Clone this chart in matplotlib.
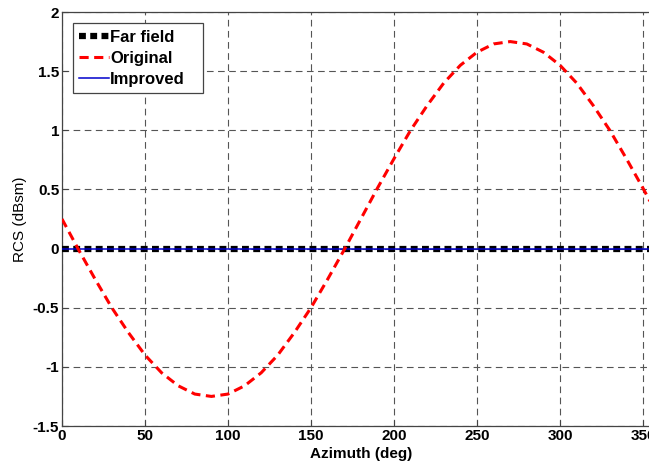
import matplotlib
matplotlib.use("Agg")
import matplotlib.pyplot as plt
import numpy as np

azimuth = [0, 10, 20, 30, 40, 50, 60, 70, 80, 90, 100, 110, 120, 130, 140, 150,
           160, 170, 180, 190, 200, 210, 220, 230, 240, 250, 260, 270, 280, 290,
           300, 310, 320, 330, 340, 350, 360]
original = [0.25, -0.01, -0.26, -0.50, -0.71, -0.90, -1.05, -1.16, -1.23, -1.25,
            -1.23, -1.16, -1.05, -0.90, -0.71, -0.50, -0.26, -0.01, 0.25, 0.51,
            0.76, 1.00, 1.21, 1.40, 1.55, 1.66, 1.73, 1.75, 1.73, 1.66, 1.55,
            1.40, 1.21, 1.00, 0.76, 0.51, 0.25]
far_field = [0.0] * len(azimuth)
improved = [0.0] * len(azimuth)
xticks = [0, 50, 100, 150, 200, 250, 300, 350]
yticks = [-1.5, -1, -0.5, 0, 0.5, 1, 1.5, 2]
ytick_labels = ["-1.5", "-1", "-0.5", "0", "0.5", "1", "1.5", "2"]

plt.rcParams['font.family'] = ['Liberation Sans', 'DejaVu Sans']

fig = plt.figure(figsize=(6.49, 4.70), dpi=100)
ax = fig.add_axes([62/649, 44/470, 597.6/649, 414/470])

ax.plot(azimuth, far_field, color='black', linestyle=(0, (1.1, 0.7)), linewidth=4.5,
        label='Far field', zorder=3, solid_capstyle='butt', dash_capstyle='butt')
ax.plot(azimuth, original, color='#ff0000', linestyle=(0, (3, 1.8)), linewidth=2.2,
        label='Original', zorder=5)
ax.plot(azimuth, improved, color='#0000cc', linestyle='-', linewidth=1.1,
        label='Improved', zorder=4)

ax.set_xlim(0, 360)
ax.set_ylim(-1.5, 2)
ax.set_xticks(xticks)
ax.set_yticks(yticks)
ax.set_yticklabels(ytick_labels)
ax.tick_params(direction='in', length=4, width=0.8, color='#444444',
               labelsize=11, pad=2)
for lab in ax.get_xticklabels() + ax.get_yticklabels():
    lab.set_fontweight('bold')

ax.grid(True, color='#555555', linestyle=(0, (6, 4)), linewidth=0.8)
for s in ax.spines.values():
    s.set_color('#444444')
    s.set_linewidth(0.9)

ax.set_xlabel('Azimuth (deg)', fontsize=11, fontweight='bold', labelpad=3)
ax.set_ylabel('RCS (dBsm)', fontsize=11, labelpad=4)

handles, labels = ax.get_legend_handles_labels()
leg = ax.legend(handles, labels,
                loc='upper left', bbox_to_anchor=(10.7/597.6, 403/414, 130/597.6, 0),
                mode='expand',
                prop={'weight': 'bold', 'size': 12}, frameon=True, fancybox=False,
                edgecolor='#444444', framealpha=1, handlelength=1.75,
                handletextpad=0.1, borderpad=0.4, labelspacing=0.36,
                borderaxespad=0)
leg.get_frame().set_linewidth(0.9)

fig.savefig('out.png', dpi=100)
